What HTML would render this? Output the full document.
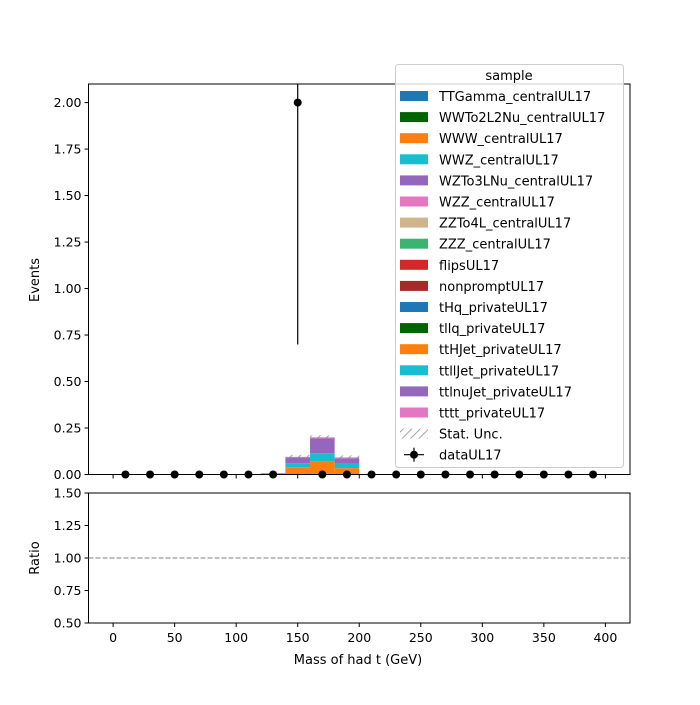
<!DOCTYPE html>
<html><head><meta charset="utf-8"><style>
body{margin:0;background:#fff;}
svg{font-family:"DejaVu Sans","Liberation Sans",sans-serif;}
</style></head><body>
<svg id="c" width="700" height="700" xmlns="http://www.w3.org/2000/svg"></svg>
<script>
const binEdges=[140,160,180];
const binWidth=20;
const orangeVals=[0.038,0.065,0.032];
const cyanVals=[0.022,0.045,0.028];
const purpleVals=[0.030,0.080,0.025];
const pinkVals=[0.004,0.006,0.005];
const greenVals=[0.001,0.004,0.002];
const dataX=[10,30,50,70,90,110,130,150,170,190,210,230,250,270,290,310,330,350,370,390];
const dataY=[0,0,0,0,0,0,0,2,0,0,0,0,0,0,0,0,0,0,0,0];
const xTicks=[0,50,100,150,200,250,300,350,400];
const yTicks=[0,0.25,0.5,0.75,1,1.25,1.5,1.75,2];
const rTicks=[0.5,0.75,1,1.25,1.5];
const legendLabels=["TTGamma_centralUL17","WWTo2L2Nu_centralUL17","WWW_centralUL17","WWZ_centralUL17","WZTo3LNu_centralUL17","WZZ_centralUL17","ZZTo4L_centralUL17","ZZZ_centralUL17","flipsUL17","nonpromptUL17","tHq_privateUL17","tllq_privateUL17","ttHJet_privateUL17","ttllJet_privateUL17","ttlnuJet_privateUL17","tttt_privateUL17"];
const legendColors=["#1f77b4","#006400","#ff7f0e","#17becf","#9467bd","#e377c2","#d2b48c","#3cb371","#d62728","#a52a2a","#1f77b4","#006400","#ff7f0e","#17becf","#9467bd","#e377c2"];

const L=88.5,R=630,T=84,B=474.5,RT=493,RB=623;
const xs=v=>L+(v+20)/440*(R-L);
const ys=v=>B-v/2.1*(B-T);
const rs=v=>RB-(v-0.5)/1.0*(RB-RT);
const svg=document.getElementById('c');
const NS='http://www.w3.org/2000/svg';
function mk(tag,at,parent){const e=document.createElementNS(NS,tag);for(const k in at)e.setAttribute(k,at[k]);(parent||svg).appendChild(e);return e;}
const defs=mk('defs',{});
const pat=mk('pattern',{id:'hatch',width:6,height:6,patternUnits:'userSpaceOnUse',patternTransform:'rotate(45)'},defs);
mk('line',{x1:0,y1:0,x2:0,y2:6,stroke:'#888','stroke-width':1.5},pat);

// stacks
const stackSeries=[greenVals,orangeVals,cyanVals,purpleVals,pinkVals];
const stackColors=["#006400","#ff7f0e","#17becf","#9467bd","#e377c2"];
for(let i=0;i<binEdges.length;i++){
  let base=0;
  for(let s=0;s<stackSeries.length;s++){
    const v=stackSeries[s][i];
    const r=mk('rect',{x:xs(binEdges[i]),y:ys(base+v),width:xs(binEdges[i]+binWidth)-xs(binEdges[i]),height:ys(base)-ys(base+v),fill:stackColors[s]});
    
    
    base+=v;
  }
  const h=mk('rect',{x:xs(binEdges[i]),y:ys(base)-2,width:xs(binEdges[i]+binWidth)-xs(binEdges[i]),height:4,fill:'url(#hatch)'});
  
  
}
mk('line',{x1:xs(120),x2:xs(140),y1:ys(0.003),y2:ys(0.003),stroke:'#17becf','stroke-width':1.5});

// data points
for(let i=0;i<dataX.length;i++){
  if(dataY[i]>0){mk('line',{x1:xs(dataX[i]),x2:xs(dataX[i]),y1:T,y2:ys(dataY[i]-Math.sqrt(dataY[i])*0.92),stroke:'#000','stroke-width':1.2});}
  const c=mk('circle',{cx:xs(dataX[i]),cy:ys(dataY[i]),r:4,fill:'#000'});
  
  
}

// axes frames
mk('rect',{x:L,y:T,width:R-L,height:B-T,fill:'none',stroke:'#000','stroke-width':1});
mk('rect',{x:L,y:RT,width:R-L,height:RB-RT,fill:'none',stroke:'#000','stroke-width':1});
mk('line',{x1:L,x2:R,y1:rs(1),y2:rs(1),stroke:'#808080','stroke-dasharray':'5,2','stroke-width':1});

function txt(x,y,s,anchor,size,name){const t=mk('text',{x:x,y:y,'text-anchor':anchor||'middle','font-size':size||12.5,fill:'#000'});t.textContent=s;return t;}
xTicks.forEach(v=>{const x=xs(v);
  mk('line',{x1:x,x2:x,y1:B,y2:B+4,stroke:'#000'});
  mk('line',{x1:x,x2:x,y1:RB,y2:RB+4,stroke:'#000'});
  txt(x,RB+19,String(v),'middle',12.5,'x-tick-label');});
yTicks.forEach(v=>{const y=ys(v);mk('line',{x1:L-4,x2:L,y1:y,y2:y,stroke:'#000'});txt(L-7,y+4.5,v.toFixed(2),'end',12.5,'y-tick-label');});
rTicks.forEach(v=>{const y=rs(v);mk('line',{x1:L-4,x2:L,y1:y,y2:y,stroke:'#000'});txt(L-7,y+4.5,v.toFixed(2),'end',12.5,'ratio-tick-label');});
txt(358,664,'Mass of had t (GeV)','middle',13,'x-axis-title');
const yt=txt(0,0,'Events','middle',13,'y-axis-title');yt.setAttribute('transform','translate(39,280) rotate(-90)');
const rt=txt(0,0,'Ratio','middle',13,'ratio-axis-title');rt.setAttribute('transform','translate(39,558) rotate(-90)');

// legend
const lg=mk('rect',{x:395.5,y:64.5,width:228,height:403,rx:3,fill:'#fff','fill-opacity':0.8,stroke:'#ccc'});

txt(509,80,'sample','middle',13,'legend-title');
const ly0=96,dy=21.1;
legendLabels.forEach((l,i)=>{const y=ly0+i*dy;
  const r=mk('rect',{x:400,y:y-5,width:28,height:10,fill:legendColors[i]});
  
  txt(439,y+5,l,'start',13,'legend-entry');});
let y=ly0+16*dy;
mk('rect',{x:400,y:y-5,width:28,height:10,fill:'url(#hatch)'});
txt(439,y+5,'Stat. Unc.','start',13,'legend-entry');
y+=dy;
mk('line',{x1:414,x2:414,y1:y-7,y2:y+7,stroke:'#000','stroke-width':1.2});
mk('line',{x1:404,x2:424,y1:y,y2:y,stroke:'#000','stroke-width':1.2});
mk('circle',{cx:414,cy:y,r:4,fill:'#000'});
txt(439,y+5,'dataUL17','start',13,'legend-entry');
</script>
</body></html>
